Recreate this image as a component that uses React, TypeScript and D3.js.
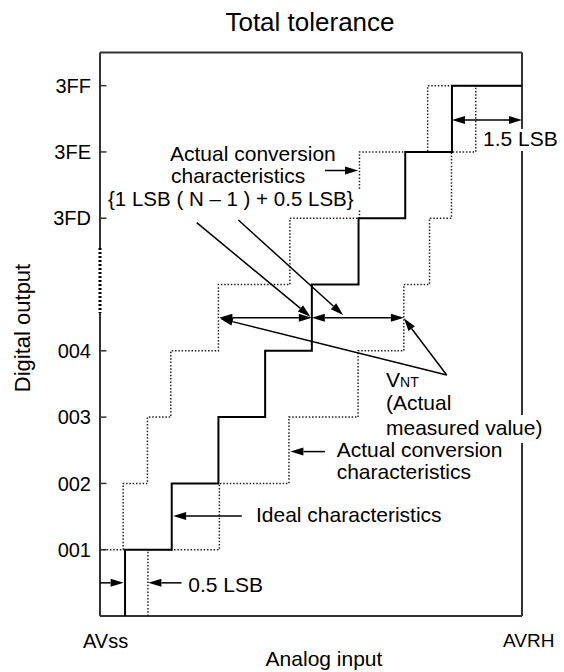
import React from "react";
import * as d3 from "d3";

// ---- data (x in LSB units, y in output-code levels) ----
const tickLevels = [1, 2, 3, 4, 6, 7, 8];
const tickLabels = ["001", "002", "003", "004", "3FD", "3FE", "3FF"];
const idealStart = 0.5;
const idealTransitions = [0.5, 1.5, 2.5, 3.5, 4.5, 5.5, 6.5, 7.5];
const upperTransitions = [0.46, 0.98, 1.48, 2.5, 4.03, 5.52, 6.98];
const lowerStart = 0.99;
const lowerTransitions = [0.99, 2.52, 4.01, 5.49, 6.47, 7.02, 7.49, 8.01];
const axisBreak = [4.57, 5.55];

// dimension arrows (double headed)
const dimArrows: [number, number, number, number][] = [
  [7.5, 7.48, 9.0, 7.48],
  [2.52, 4.5, 4.5, 4.5],
  [4.5, 4.5, 6.47, 4.5],
];
// pointer arrows: from -> tip
const pointerArrows: [number, number, number, number][] = [
  [4.78, 6.72, 5.49, 6.72],
  [2.035, 5.933, 4.47, 4.515],
  [2.926, 5.974, 5.17, 4.54],
  [7.388, 3.636, 2.53, 4.488],
  [7.388, 3.636, 6.47, 4.49],
  [4.78, 2.48, 4.04, 2.48],
  [3.0, 1.51, 1.53, 1.51],
  [-0.036, 0.5, 0.47, 0.5],
  [1.71, 0.5, 1.0, 0.5],
];

const W = 564;
const H = 672;
const xMin = -0.036;
const xMax = 9.0;
const x = d3.scaleLinear().domain([xMin, xMax]).range([100, 522]);
const y = d3.scaleLinear().domain([0, 8.5]).range([616, 52.5]);

const FONT = "'Liberation Sans', Arial, Helvetica, sans-serif";

function stairs(x0: number, l0: number, ts: number[]): [number, number][] {
  const pts: [number, number][] = [[x0, l0]];
  ts.forEach((t, i) => pts.push([t, l0 + i + 1]));
  pts.push([xMax, l0 + ts.length]);
  return pts;
}

function head(x1: number, y1: number, x2: number, y2: number, L = 13, w = 4) {
  const dx = x2 - x1, dy = y2 - y1;
  const len = Math.hypot(dx, dy);
  const ux = dx / len, uy = dy / len;
  const bx = x2 - ux * L, by = y2 - uy * L;
  const px = -uy * w, py = ux * w;
  return {
    pts: `${x2},${y2} ${bx + px},${by + py} ${bx - px},${by - py}`,
    bx, by,
  };
}

function PointerArrow({ a }: { a: [number, number, number, number] }) {
  const x1 = x(a[0]), y1 = y(a[1]), x2 = x(a[2]), y2 = y(a[3]);
  const h = head(x1, y1, x2, y2);
  return (
    <g>
      <line x1={x1} y1={y1} x2={h.bx} y2={h.by} stroke="#000" strokeWidth={1.5} />
      <polygon points={h.pts} fill="#000" />
    </g>
  );
}

function DimArrow({ a }: { a: [number, number, number, number] }) {
  const x1 = x(a[0]), y1 = y(a[1]), x2 = x(a[2]), y2 = y(a[3]);
  const h2 = head(x1, y1, x2, y2);
  const h1 = head(x2, y2, x1, y1);
  return (
    <g>
      <line x1={h1.bx} y1={h1.by} x2={h2.bx} y2={h2.by} stroke="#000" strokeWidth={1.5} />
      <polygon points={h1.pts} fill="#000" />
      <polygon points={h2.pts} fill="#000" />
    </g>
  );
}

export default function App() {
  const line = d3
    .line<[number, number]>()
    .x((d) => x(d[0]))
    .y((d) => y(d[1]))
    .curve(d3.curveStepAfter);

  const idealPath = line(stairs(idealStart, 0, idealTransitions)) || "";
  const upperPath = line(stairs(xMin, 1, upperTransitions)) || "";
  const lowerPath = line(stairs(lowerStart, 0, lowerTransitions)) || "";

  const x0 = x(xMin), x1 = x(xMax), yTop = y(8.5), yBot = y(0);
  const tsz = 21;

  return (
    <svg
      width={W}
      height={H}
      viewBox={`0 0 ${W} ${H}`}
      style={{ position: "absolute", left: 0, top: 0, display: "block", background: "#fff" }}
      fontFamily={FONT}
    >
      <rect x={0} y={0} width={W} height={H} fill="#fff" />
      {/* title */}
      <text x={310} y={31} fontSize={26} textAnchor="middle" fill="#000">
        Total tolerance
      </text>

      {/* frame */}
      <g stroke="#333" strokeWidth={2} fill="none">
        <line x1={x0} y1={yTop} x2={x1} y2={yTop} />
        <line x1={x1} y1={yTop} x2={x1} y2={yBot} />
        <line x1={x0} y1={yBot} x2={x1} y2={yBot} />
        <line x1={x0} y1={yTop} x2={x0} y2={y(axisBreak[1])} />
        <line x1={x0} y1={y(axisBreak[0])} x2={x0} y2={yBot} />
      </g>
      <line
        x1={x0}
        y1={y(axisBreak[1])}
        x2={x0}
        y2={y(axisBreak[0])}
        stroke="#000"
        strokeWidth={3}
        strokeDasharray="2 2"
      />

      {/* ticks */}
      {tickLevels.map((l, i) => (
        <g key={l}>
          <line x1={x0} x2={x0 + 6.5} y1={y(l)} y2={y(l)} stroke="#333" strokeWidth={1.5} />
          <text x={91} y={y(l)} dy="0.36em" fontSize={20} textAnchor="end" fill="#000">
            {tickLabels[i]}
          </text>
        </g>
      ))}

      {/* staircases */}
      <path d={upperPath} fill="none" stroke="#222" strokeWidth={1.5} strokeDasharray="1.5 1.8" />
      <path d={lowerPath} fill="none" stroke="#222" strokeWidth={1.5} strokeDasharray="1.5 1.8" />
      <path d={idealPath} fill="none" stroke="#000" strokeWidth={2} />

      {/* text backgrounds */}
      <rect x={106} y={189} width={262} height={21} fill="#fff" />
      <rect x={480} y={129} width={80} height={22} fill="#fff" />
      <rect x={384} y={415} width={160} height={28} fill="#fff" />

      {/* arrows */}
      {dimArrows.map((a, i) => (
        <DimArrow key={"d" + i} a={a} />
      ))}
      {pointerArrows.map((a, i) => (
        <PointerArrow key={"p" + i} a={a} />
      ))}

      {/* annotation text */}
      <g fontSize={tsz} fill="#000">
        <text x={170} y={161}>Actual conversion</text>
        <text x={171} y={183}>characteristics</text>
        <text x={108} y={205.5} fontSize={20.5}>{"{1 LSB ( N \u2013 1 ) + 0.5 LSB}"}</text>
        <text x={483} y={146}>1.5 LSB</text>
        <text x={386} y={386.7}>
          V<tspan fontSize={14}>NT</tspan>
        </text>
        <text x={386} y={410}>(Actual</text>
        <text x={386} y={435}>measured value)</text>
        <text x={336.7} y={457}>Actual conversion</text>
        <text x={336.7} y={479}>characteristics</text>
        <text x={256} y={521.7}>Ideal characteristics</text>
        <text x={188.3} y={591.7}>0.5 LSB</text>
      </g>

      {/* axis texts */}
      <text x={83} y={648} fontSize={20} fill="#000">
        AVss
      </text>
      <text x={503} y={647} fontSize={19} fill="#000">
        AVRH
      </text>
      <text x={324} y={666} fontSize={21} textAnchor="middle" fill="#000">
        Analog input
      </text>
      <text
        transform="translate(30,328) rotate(-90)"
        fontSize={22}
        textAnchor="middle"
        fill="#000"
      >
        Digital output
      </text>
    </svg>
  );
}
